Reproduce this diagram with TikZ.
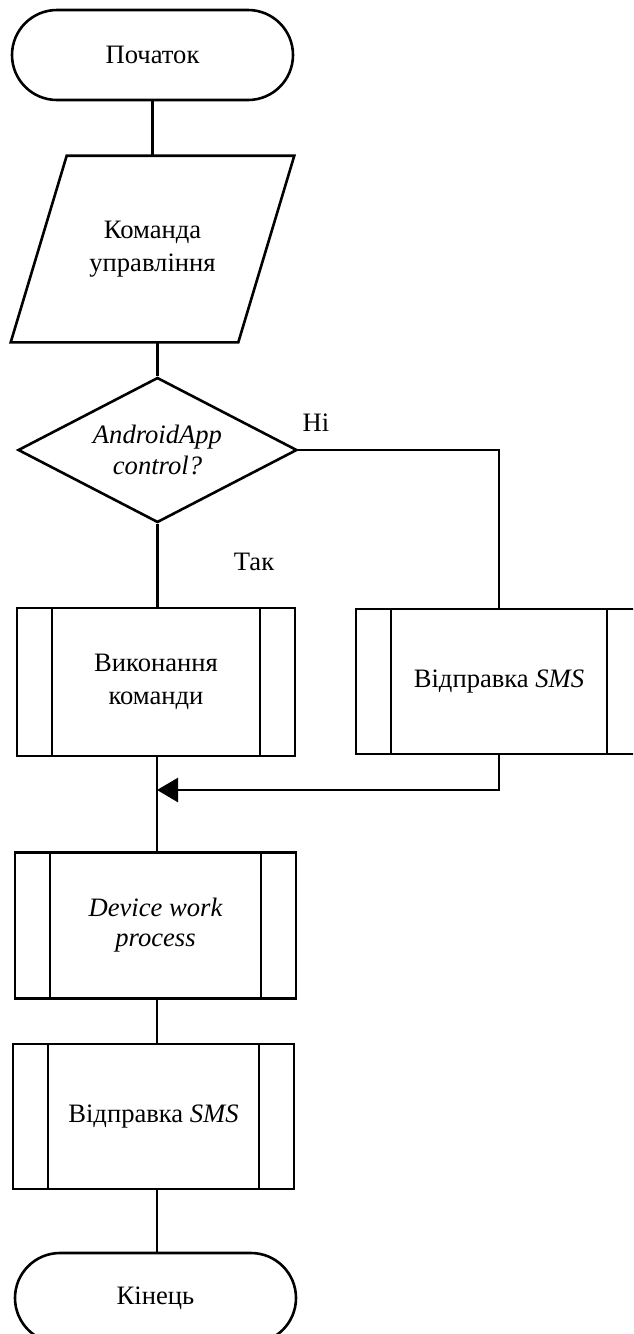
\documentclass[tikz,border=0pt]{standalone}
\usepackage{fontspec}
\setmainfont{Liberation Serif}
\usetikzlibrary{shapes.geometric,arrows.meta,calc}

\begin{document}
\begin{tikzpicture}[
  x=0.5pt, y=-0.5pt,
  line width=1.3pt,
  every node/.style={font=\fontsize{13.3}{16.5}\selectfont, align=center, inner sep=0pt},
  terminal/.style={draw, rectangle, rounded corners=22.5pt,
                   minimum width=140.5pt, minimum height=45pt},
  iobox/.style={rectangle, minimum width=140.5pt, minimum height=92pt},
  decision/.style={draw, diamond, aspect=2, minimum width=139.5pt, minimum height=72.5pt},
  procbox/.style={draw, rectangle, minimum height=73pt,
    path picture={
      \draw[line width=1.3pt]
        ([xshift=17.5pt]path picture bounding box.north west) --
        ([xshift=17.5pt]path picture bounding box.south west)
        ([xshift=-17.5pt]path picture bounding box.north east) --
        ([xshift=-17.5pt]path picture bounding box.south east);
    }},
  lbl/.style={font=\fontsize{13.3}{16}\selectfont}
]
\useasboundingbox (0,0) rectangle (633,1334);
\clip (0,0) rectangle (633,1334);

% blocks
\node[terminal] (start) at (152.5,55) {Початок};
\node[iobox] (input) at (152.5,249) {Команда\\управління};
\draw ([xshift=28pt]input.north west) -- (input.north east)
      -- ([xshift=-28pt]input.south east) -- (input.south west) -- cycle;
\node[decision, font=\fontsize{13.3}{15.5}\selectfont\itshape] (dec) at (157.5,450) {AndroidApp\\control?};
\node[procbox, minimum width=139pt, minimum height=74pt] (exec) at (156,682) {Виконання\\команди};
\node[procbox, minimum width=143pt, minimum height=72.5pt] (sms1) at (499,681.5) {Відправка \textit{SMS}};
\node[procbox, minimum width=140.5pt, font=\fontsize{13.3}{15}\selectfont\itshape] (work) at (155.5,925.5) {Device work\\process};
\node[procbox, minimum width=140.5pt, minimum height=72.5pt] (sms2) at (153.5,1116.5) {Відправка \textit{SMS}};
\node[terminal] (stop) at (155.5,1298) {Кінець};

% branch labels
\node[lbl] (no) at (316,423) {Ні};
\node[lbl] (yes) at (254,562) {Так};

% connectors
\coordinate (merge) at (157,790);
\draw (start) -- (input);
\draw (dec.north |- input.south) -- (dec.north);
\draw (dec.south) -- (dec.south |- exec.north);
\draw (dec.east) -| (sms1.north);
\draw[-{Triangle[length=10.5pt,width=12pt]}] (sms1.south) |- (merge);
\draw (merge |- exec.south) -- (merge |- work.north);
\draw (merge |- work.south) -- (merge |- sms2.north);
\draw (merge |- sms2.south) -- (merge |- stop.north);
\end{tikzpicture}
\end{document}
